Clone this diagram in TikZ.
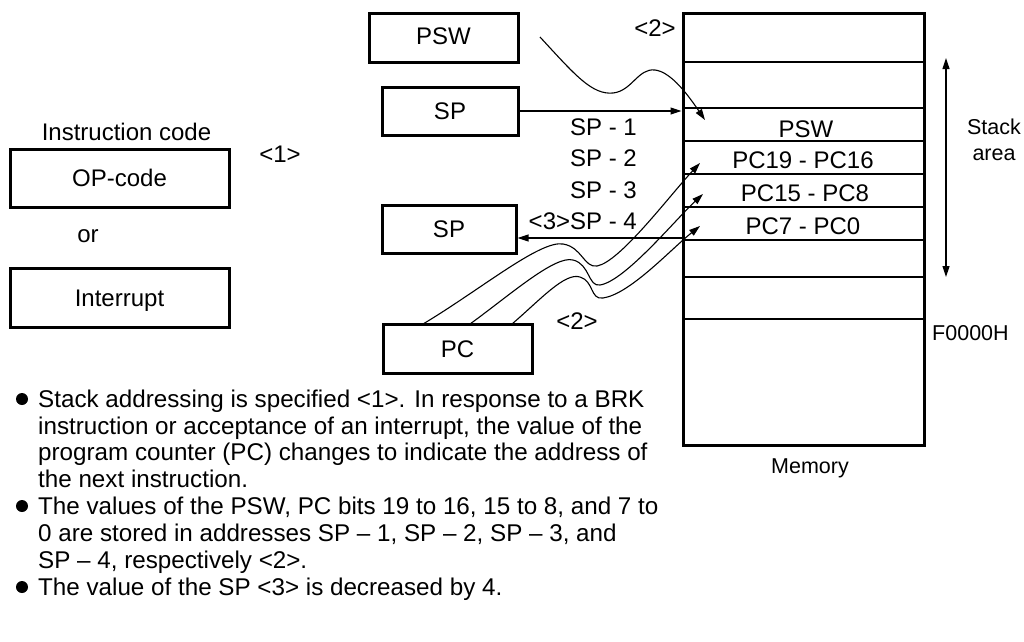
\documentclass[tikz,border=0pt]{standalone}
\usepackage{fontspec}
\setmainfont{Liberation Sans}
\usetikzlibrary{arrows.meta}
\begin{document}
\begin{tikzpicture}[x=1pt,y=-1pt,
  lbl/.style={inner sep=0pt,font=\fontsize{24}{28}\selectfont,text height=17pt,text depth=0pt},
  slbl/.style={inner sep=0pt,font=\fontsize{21.5}{26}\selectfont,text height=15.4pt,text depth=0pt},
  btxt/.style={inner sep=0pt,anchor=west,font=\fontsize{24.2}{28}\selectfont,text height=17.3pt,text depth=0pt},
  regbox/.style={draw,line width=3pt,inner sep=0pt,font=\fontsize{24}{28}\selectfont,text height=17pt,text depth=0pt},
  conn/.style={line width=1.1pt,-{Triangle[length=11pt,width=7pt]}},
  thinline/.style={line width=1.1pt},
  midline/.style={line width=1.8pt},
  thickline/.style={line width=2.6pt}]
\useasboundingbox (0,0) rectangle (1024,641);
% memory
\node[regbox,minimum width=241pt,minimum height=432pt] (mem) at (803.5,229) {};
\draw[thinline] (683,62) -- (924,62);
\draw[midline] (683,108) -- (924,108);
\draw[thickline] (683,141) -- (924,141);
\draw[midline] (683,174) -- (924,174);
\draw[thickline] (683,207) -- (924,207);
\draw[thinline] (683,240) -- (924,240);
\draw[thinline] (683,277) -- (924,277);
\draw[midline] (683,319) -- (924,319);
\node[lbl] (cpsw) at (806,129) {PSW};
\node[lbl] (c1916) at (803,159.5) {PC19 - PC16};
\node[lbl] (c158) at (805,193) {PC15 - PC8};
\node[lbl] (c70) at (803,225.5) {PC7 - PC0};
\node[slbl] (mlab) at (810,466) {Memory};
\node[slbl,anchor=west] (f0) at (932,333) {F0000H};
\node[slbl] (stk) at (994,127) {Stack};
\node[slbl] (area) at (994,153) {area};
\coordinate (stop) at (946,58);
\coordinate (sbot) at (946,277);
\draw[line width=1.1pt,{Triangle[length=11pt,width=7pt]}-{Triangle[length=11pt,width=7pt]}] (stop) -- (sbot);
% registers
\node[regbox,minimum width=149pt,minimum height=49pt,text height=13pt] (psw) at (443.5,38) {PSW};
\node[regbox,minimum width=136pt,minimum height=48pt] (sp1) at (450,111) {SP};
\node[regbox,minimum width=134pt,minimum height=48pt] (sp2) at (449,229) {SP};
\node[regbox,minimum width=149pt,minimum height=49pt] (pc) at (457.5,348.5) {PC};
% left
\node[lbl] (icode) at (126.5,132) {Instruction code};
\node[regbox,minimum width=219pt,minimum height=58pt] (op) at (119.5,178) {OP-code};
\node[lbl] (or) at (88,234) {or};
\node[regbox,minimum width=219pt,minimum height=59pt] (intr) at (119.5,297.5) {Interrupt};
\node[lbl] (one) at (280,154) {<1>};
% labels
\node[lbl] (two1) at (655,28) {<2>};
\node[lbl] (two2) at (577,321) {<2>};
\node[lbl,anchor=east] (s1) at (637,127) {SP - 1};
\node[lbl,anchor=east] (s2) at (637,158) {SP - 2};
\node[lbl,anchor=east] (s3) at (637,190) {SP - 3};
\node[lbl,anchor=east] (s4) at (637,221) {<3>SP - 4};
% connectors
\coordinate (y110) at (0,111);
\coordinate (y238) at (0,238);
\draw[conn] (sp1.east) -- (mem.west |- y110);
\draw[conn] (mem.west |- y238) -- (sp2.east |- y238);
\coordinate (pswstart) at (540,37);
\coordinate (pswtip) at (705,120);
\draw[conn] (pswstart) .. controls (575,75) and (592,95) .. (613,93)
  .. controls (632,91) and (638,68) .. (655,70)
  .. controls (672,72) and (690,98) .. (pswtip);
\coordinate (pca) at (423,324);
\coordinate (pcb) at (470,324);
\coordinate (pcc) at (512,324);
\coordinate (ta) at (700,163);
\coordinate (tb) at (703,194);
\coordinate (tc) at (700,226);
\draw[conn] (pca) .. controls (480,290) and (540,240) .. (563,244)
  .. controls (582,247) and (584,268) .. (597,266)
  .. controls (620,262) and (670,195) .. (ta);
\draw[conn] (pcb) .. controls (510,295) and (555,255) .. (573,260)
  .. controls (590,264) and (588,287) .. (600,285)
  .. controls (625,281) and (675,220) .. (tb);
\draw[conn] (pcc) .. controls (540,300) and (565,272) .. (580,277)
  .. controls (594,281) and (590,300) .. (603,298)
  .. controls (630,294) and (670,250) .. (tc);
% bullets
\fill (22,399) circle (6pt);
\fill (22,506) circle (6pt);
\fill (22,587) circle (6pt);
\node[btxt] (b1) at (38,399) {Stack addressing is specified <1>. In response to a BRK};
\node[btxt] (b2) at (38,425.5) {instruction or acceptance of an interrupt, the value of the};
\node[btxt] (b3) at (38,452) {program counter (PC) changes to indicate the address of};
\node[btxt] (b4) at (38,479) {the next instruction.};
\node[btxt] (b5) at (38,506) {The values of the PSW, PC bits 19 to 16, 15 to 8, and 7 to};
\node[btxt] (b6) at (38,533) {0 are stored in addresses SP – 1, SP – 2, SP – 3, and};
\node[btxt] (b7) at (38,560) {SP – 4, respectively <2>.};
\node[btxt] (b8) at (38,587) {The value of the SP <3> is decreased by 4.};
\end{tikzpicture}
\end{document}
